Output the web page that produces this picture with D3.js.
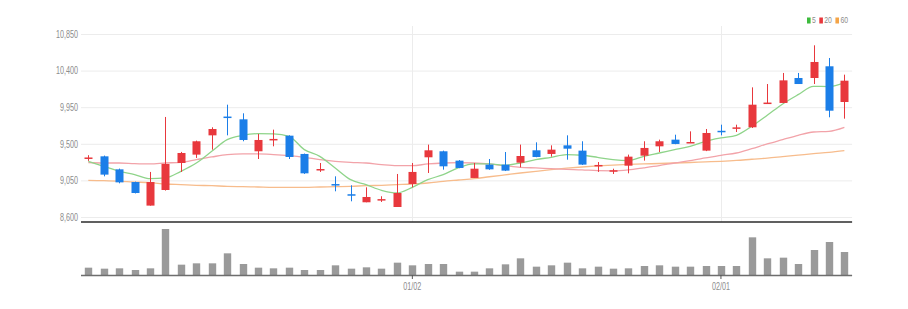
<!DOCTYPE html>
<html>
<head>
<meta charset="utf-8">
<script src="https://cdn.jsdelivr.net/npm/d3@7"></script>
<style>
    html, body { margin: 0; padding: 0; background: #fff; }
    svg text { font-family: "Liberation Sans", Arial, sans-serif; }
</style>
</head>
<body>
<svg id="chart" width="908" height="309"></svg>
<script>
//Data
const dates = [
    '2022-12-02', '2022-12-05', '2022-12-06', '2022-12-07', '2022-12-08', '2022-12-09', '2022-12-12',
    '2022-12-13', '2022-12-14', '2022-12-15', '2022-12-16', '2022-12-19', '2022-12-20', '2022-12-21',
    '2022-12-22', '2022-12-23', '2022-12-26', '2022-12-27', '2022-12-28', '2022-12-29', '2022-12-30',
    '2023-01-02', '2023-01-03', '2023-01-04', '2023-01-05', '2023-01-06', '2023-01-09', '2023-01-10',
    '2023-01-11', '2023-01-12', '2023-01-13', '2023-01-16', '2023-01-17', '2023-01-18', '2023-01-19',
    '2023-01-20', '2023-01-25', '2023-01-26', '2023-01-27', '2023-01-30', '2023-01-31', '2023-02-01',
    '2023-02-02', '2023-02-03', '2023-02-06', '2023-02-07', '2023-02-08', '2023-02-09', '2023-02-10',
    '2023-02-13',
];
const openPrices = [
    9320, 9346, 9186, 9030, 8740, 8932, 9264, 9367, 9604, 9835,
    9801, 9408, 9545, 9600, 9375, 9175, 9005, 8880, 8781, 8805,
    8723, 9006, 9334, 9408, 9293, 9080, 9244, 9244, 9268, 9420,
    9375, 9481, 9416, 9230, 9165, 9231, 9354, 9469, 9551, 9512,
    9416, 9660, 9690, 9703, 9995, 10002, 10309, 10309, 10453, 10014,
];
const highPrices = [
    9360, 9355, 9195, 9035, 9154, 9830, 9400, 9539, 9703, 9981,
    9875, 9621, 9674, 9605, 9380, 9264, 9100, 8990, 8965, 8855,
    9129, 9264, 9490, 9416, 9300, 9264, 9313, 9399, 9490, 9518,
    9481, 9604, 9531, 9276, 9194, 9367, 9531, 9551, 9612, 9653,
    9682, 9735, 9735, 10194, 10235, 10371, 10371, 10711, 10555, 10350,
];
const lowPrices = [
    9290, 9100, 9014, 8890, 8740, 8925, 9154, 9326, 9428, 9604,
    9531, 9313, 9469, 9313, 9130, 9154, 8916, 8793, 8781, 8785,
    8723, 8965, 9141, 9182, 9200, 9080, 9180, 9165, 9211, 9335,
    9342, 9305, 9240, 9154, 9129, 9137, 9293, 9399, 9495, 9510,
    9410, 9604, 9645, 9694, 9990, 10000, 10235, 10235, 9826, 9809,
];
const closePrices = [
    9332, 9121, 9026, 8895, 9030, 9252, 9387, 9531, 9682, 9820,
    9547, 9547, 9560, 9338, 9137, 9190, 8990, 8870, 8846, 8820,
    8895, 9154, 9420, 9223, 9203, 9194, 9186, 9170, 9350, 9338,
    9428, 9440, 9244, 9240, 9175, 9342, 9449, 9531, 9498, 9522,
    9633, 9645, 9702, 9981, 10007, 10280, 10235, 10506, 9907, 10276,
];
const volumes = [
    22000, 19000, 20000, 15000, 20000, 138000, 31000, 35000, 35000, 65000,
    33000, 22000, 20000, 22000, 15000, 15000, 29000, 19000, 23000, 19000,
    37000, 29000, 33000, 33000, 10000, 10000, 20000, 32000, 50000, 25000,
    29000, 37000, 20000, 25000, 19000, 20000, 27000, 29000, 25000, 25000,
    27000, 27000, 27000, 113000, 50000, 52000, 33000, 75000, 99000, 69000,
];
const ma5 = [
    9285, 9223, 9162, 9121, 9071, 9080, 9162, 9264, 9408, 9551,
    9604, 9625, 9621, 9592, 9428, 9346, 9203, 9059, 8998, 8928,
    8895, 8965, 9059, 9121, 9207, 9252, 9252, 9236, 9264, 9305,
    9334, 9367, 9359, 9334, 9305, 9293, 9346, 9387, 9428, 9469,
    9531, 9572, 9604, 9715, 9850, 9990, 10104, 10207, 10203, 10248,
];
const ma20 = [
    9270, 9264, 9264, 9256, 9252, 9264, 9272, 9305, 9338, 9367,
    9375, 9375, 9367, 9354, 9334, 9305, 9285, 9272, 9264, 9244,
    9231, 9231, 9252, 9264, 9268, 9264, 9252, 9231, 9211, 9203,
    9194, 9186, 9180, 9170, 9168, 9180, 9205, 9232, 9264, 9293,
    9326, 9359, 9387, 9440, 9498, 9551, 9604, 9645, 9653, 9703,
];
const ma60 = [
    9051, 9047, 9039, 9030, 9022, 9006, 8998, 8990, 8985, 8977,
    8973, 8969, 8965, 8965, 8965, 8969, 8973, 8977, 8985, 8990,
    8998, 9006, 9018, 9039, 9055, 9071, 9095, 9118, 9141, 9162,
    9182, 9200, 9215, 9228, 9238, 9246, 9252, 9258, 9264, 9270,
    9278, 9285, 9295, 9310, 9324, 9342, 9360, 9378, 9395, 9416,
];
const priceTicks = [8600, 9050, 9500, 9950, 10400, 10850];
const dateTicks = ['2023-01-02', '2023-02-01'];
const legendItems = ['5', '20', '60'];

//Helpers
const translate = (x, y) => `translate(${x}, ${y})`;
const fmtDate = d => d.slice(5, 7) + '/' + d.slice(8, 10);
const squeeze = 0.72; // labels in the reference use a condensed face

//Setup
const width = 908;
const margins = { left: 80.6, right: 55.9, priceTop: 34, priceBottom: 217, volTop: 229, volBottom: 275 };
const colors = {
    up: '#e8383d',
    down: '#1b7ee8',
    ma5: '#8fd48a',
    ma20: '#f2a3a9',
    ma60: '#f7bc8c',
    volume: '#9a9a9a',
    grid: '#ececec',
    label: '#8c8c8c',
};

const svg = d3.select('#chart');
svg.append('rect').attr('width', width).attr('height', 309).attr('fill', '#fff');

const candles = dates.map((d, i) => ({
    date: d,
    open: openPrices[i],
    high: highPrices[i],
    low: lowPrices[i],
    close: closePrices[i],
    volume: volumes[i],
}));
const candleColor = d => d.close >= d.open ? colors.up : colors.down;

//Scales
const xScale = d3.scaleBand()
    .domain(dates)
    .range([margins.left, width - margins.right])
    .paddingInner(0)
    .paddingOuter(0);
const xCenter = d => xScale(d) + xScale.bandwidth() / 2;

const priceScale = d3.scaleLinear()
    .domain([8600, 10850])
    .range([margins.priceBottom, margins.priceTop]);

const volumeScale = d3.scaleLinear()
    .domain([0, 138000])
    .range([margins.volBottom, margins.volTop]);

const plotLeft = 81;
const plotRight = width - margins.right;

//Price grid + axis
const priceAxis = d3.axisLeft(priceScale)
    .tickValues(priceTicks)
    .tickFormat(d3.format(','))
    .tickSize(-(plotRight - plotLeft))
    .tickPadding(3);
const priceAxisG = svg.append('g')
    .attr('class', 'price-axis')
    .attr('transform', translate(plotLeft, 0))
    .call(priceAxis);
priceAxisG.select('.domain').remove();
priceAxisG.selectAll('line').attr('stroke', colors.grid);
priceAxisG.selectAll('text')
    .attr('fill', colors.label)
    .attr('font-size', '10px')
    .attr('x', -3 / squeeze)
    .attr('transform', `scale(${squeeze},1)`);

//Vertical date grid lines
svg.append('g')
    .selectAll('line')
    .data(dateTicks)
    .join('line')
    .attr('x1', d => Math.round(xCenter(d)) + 0.5)
    .attr('x2', d => Math.round(xCenter(d)) + 0.5)
    .attr('y1', 26)
    .attr('y2', 222)
    .attr('stroke', colors.grid);

//Price panel bottom line
svg.append('line')
    .attr('x1', plotLeft)
    .attr('x2', plotRight)
    .attr('y1', 222)
    .attr('y2', 222)
    .attr('stroke', '#2b2b2b')
    .attr('stroke-width', 1.5);

//Moving averages
const maLine = d3.line()
    .x((d, i) => xCenter(dates[i]))
    .y(d => priceScale(d))
    .curve(d3.curveMonotoneX);
[[ma60, colors.ma60], [ma20, colors.ma20], [ma5, colors.ma5]].forEach(([series, color]) => {
    svg.append('path')
        .attr('d', maLine(series))
        .attr('fill', 'none')
        .attr('stroke', color)
        .attr('stroke-width', 1.3);
});

//Candles
const bodyWidth = 8;
const candleG = svg.append('g')
    .selectAll('g.candle')
    .data(candles)
    .join('g')
    .attr('class', 'candle');

candleG.append('line')
    .attr('x1', d => Math.round(xCenter(d.date)) + 0.5)
    .attr('x2', d => Math.round(xCenter(d.date)) + 0.5)
    .attr('y1', d => priceScale(d.high))
    .attr('y2', d => priceScale(d.low))
    .attr('stroke', candleColor)
    .attr('stroke-width', 1);

candleG.append('rect')
    .attr('x', d => Math.round(xCenter(d.date)) + 0.5 - bodyWidth / 2)
    .attr('width', bodyWidth)
    .attr('y', d => priceScale(Math.max(d.open, d.close)))
    .attr('height', d => Math.max(1.5, Math.abs(priceScale(d.open) - priceScale(d.close))))
    .attr('fill', candleColor);

//Volume
svg.append('g')
    .selectAll('rect')
    .data(candles)
    .join('rect')
    .attr('x', d => Math.round(xCenter(d.date)) + 0.5 - 3.7)
    .attr('width', 7.4)
    .attr('y', d => volumeScale(d.volume))
    .attr('height', d => volumeScale(0) - volumeScale(d.volume))
    .attr('fill', colors.volume);

const timeAxis = d3.axisBottom(xScale)
    .tickValues(dateTicks)
    .tickFormat(fmtDate)
    .tickSize(4)
    .tickPadding(4);
const timeAxisG = svg.append('g')
    .attr('class', 'time-axis')
    .attr('transform', translate(0, margins.volBottom))
    .call(timeAxis);
timeAxisG.select('.domain')
    .attr('d', `M${plotLeft},0.5H${plotRight}`)
    .attr('stroke', '#6e6e6e')
    .attr('stroke-width', 1.5);
timeAxisG.selectAll('line').attr('stroke', '#555');
timeAxisG.selectAll('text')
    .attr('fill', colors.label)
    .attr('font-size', '10px')
    .attr('transform', `scale(${squeeze},1)`);

//Legend
const legendColors = ['#3dbb3d', '#e8383d', '#f4a447'];
const legendG = svg.append('g')
    .attr('class', 'legend')
    .attr('transform', translate(807, 0));
let cursor = 0;
legendItems.forEach((label, i) => {
    legendG.append('rect')
        .attr('x', cursor)
        .attr('y', 17.5)
        .attr('width', 3.6)
        .attr('height', 6)
        .attr('fill', legendColors[i]);
    const txt = legendG.append('text')
        .attr('x', (cursor + 5) / squeeze)
        .attr('y', 23.5)
        .attr('fill', colors.label)
        .attr('font-size', '9.5px')
        .attr('transform', `scale(${squeeze},1)`)
        .text(label);
    cursor += 5 + txt.node().getComputedTextLength() * squeeze + 3.5;
});
</script>
</body>
</html>
